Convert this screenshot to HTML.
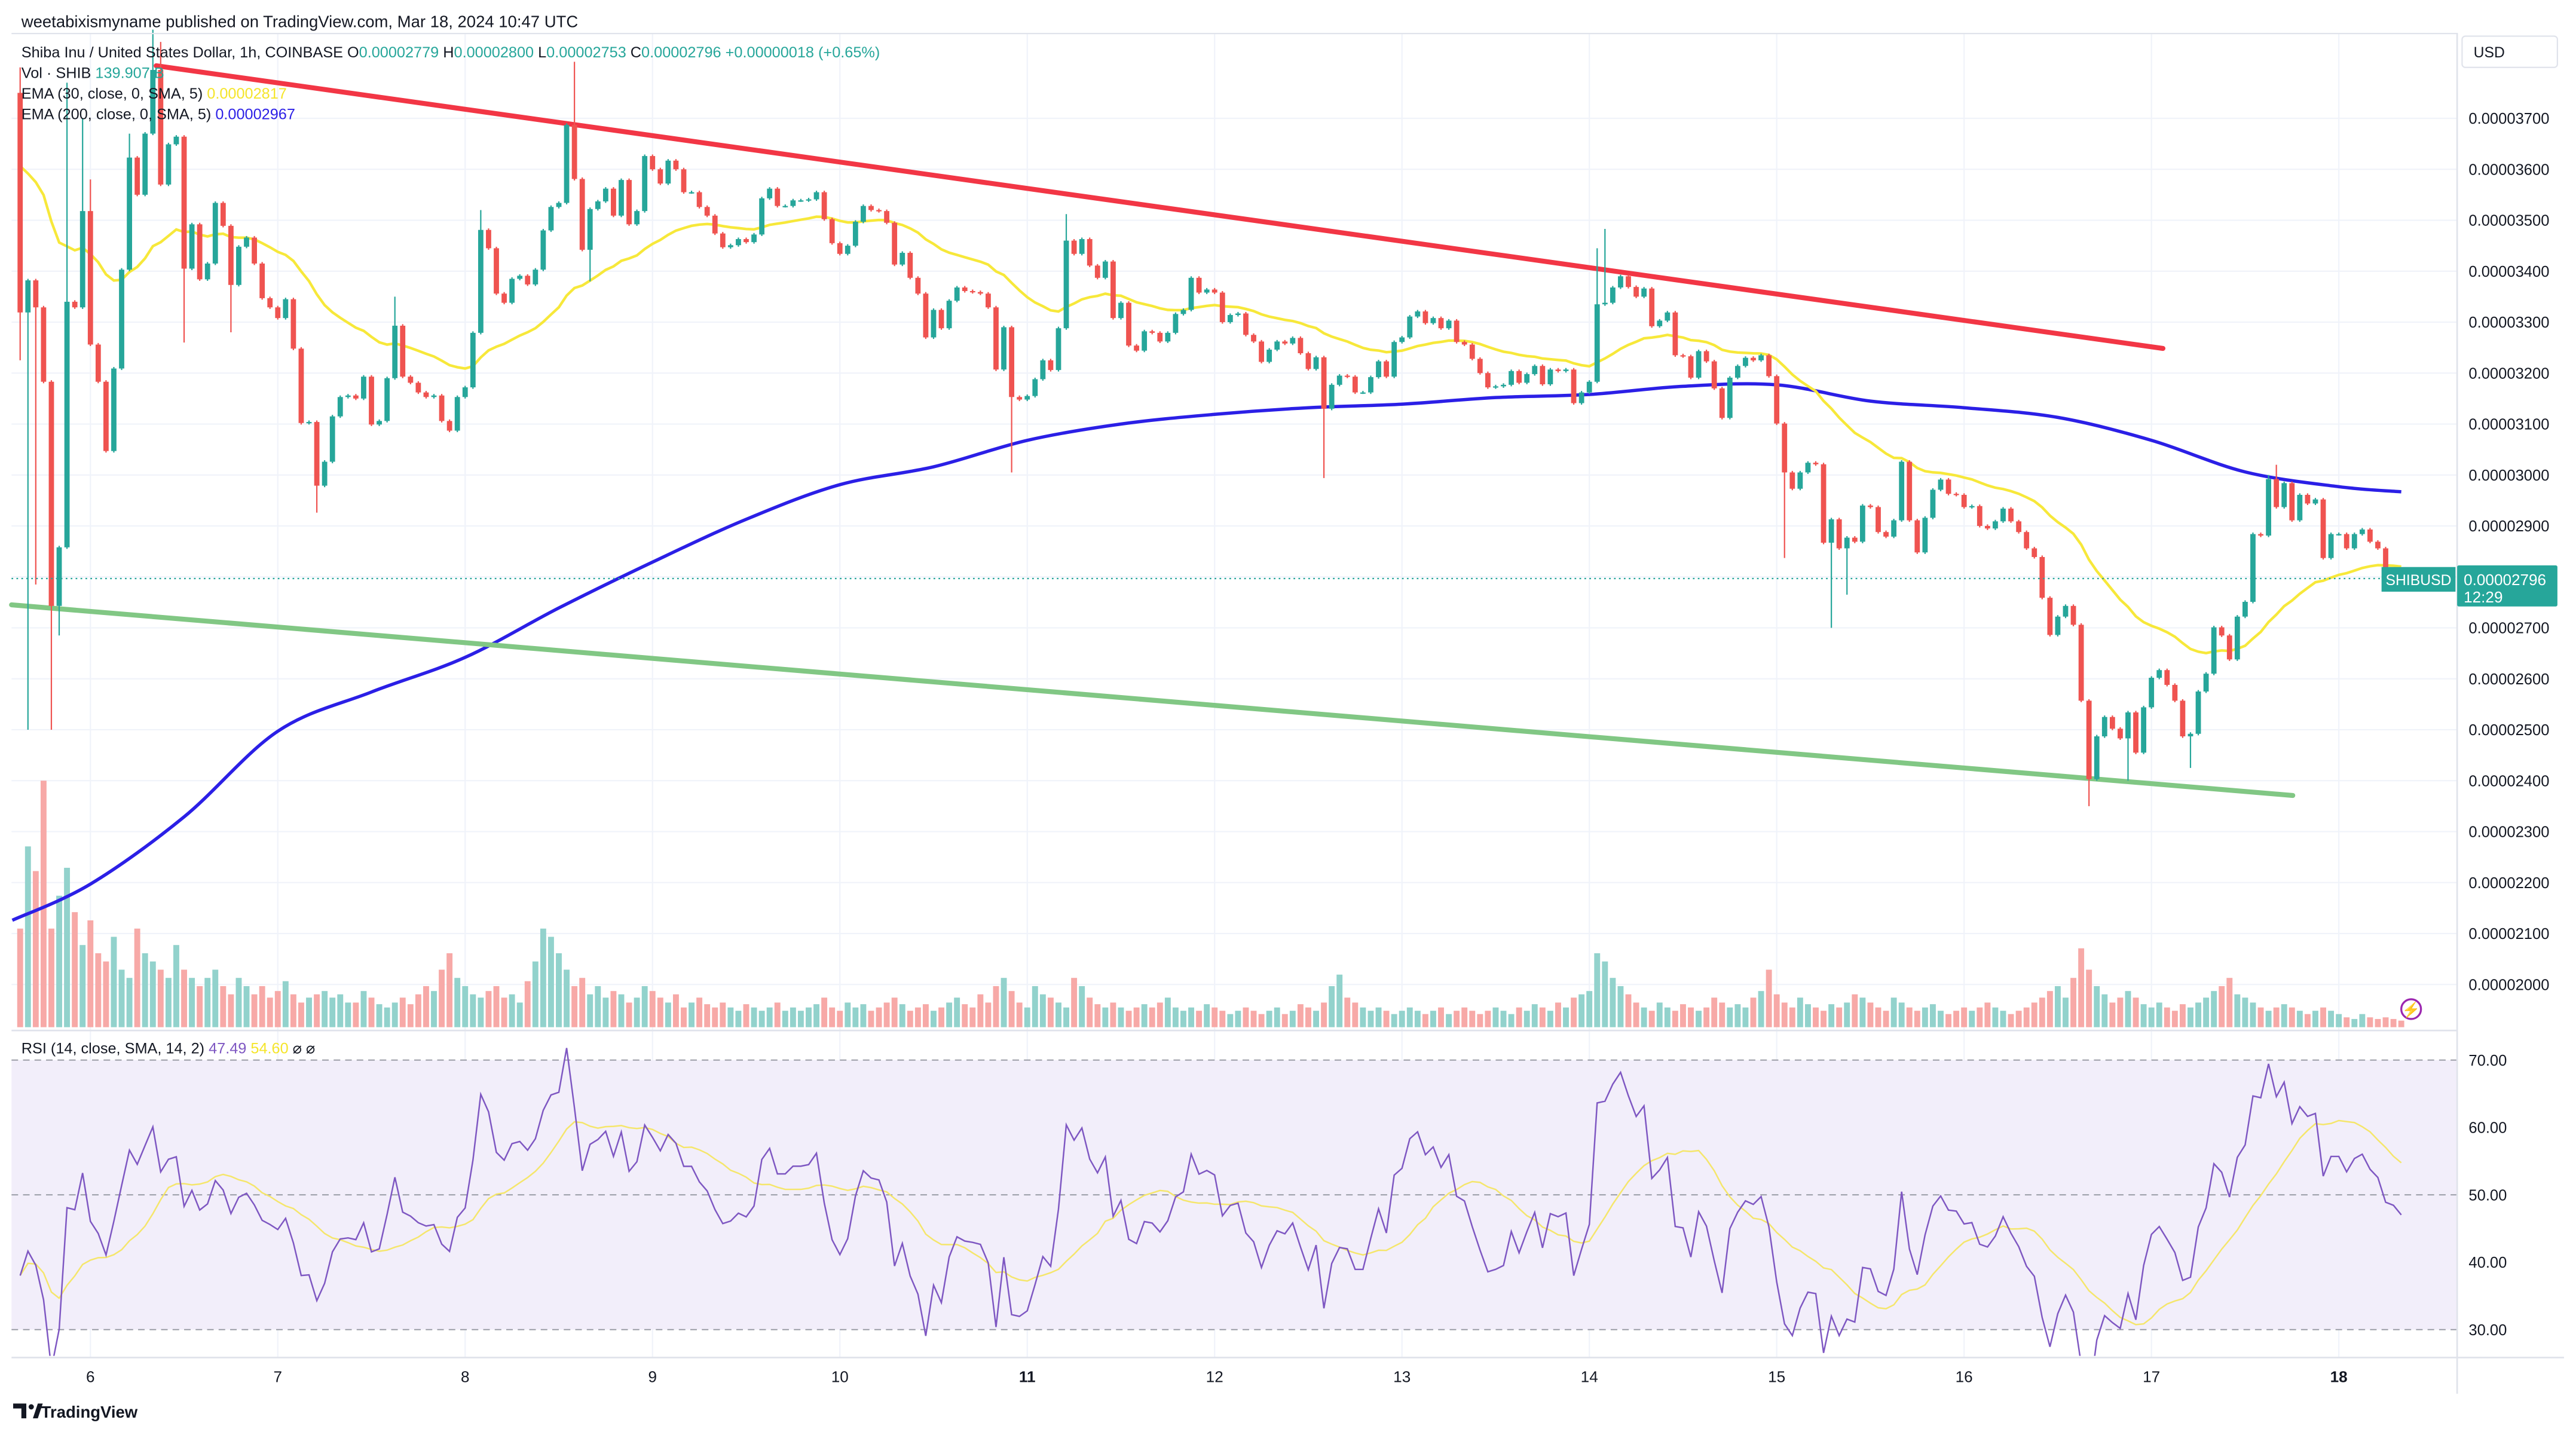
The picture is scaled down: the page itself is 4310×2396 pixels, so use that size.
<!DOCTYPE html>
<html><head><meta charset="utf-8"><title>SHIBUSD 1h chart</title>
<style>
html,body{margin:0;padding:0;background:#fff;}
svg{display:block;font-family:"Liberation Sans",sans-serif;}
</style></head>
<body>
<svg id="chart" xmlns="http://www.w3.org/2000/svg" width="4310" height="2396" viewBox="0 0 1567.3 871.3">
<rect x="0" y="0" width="1567.3" height="871.3" fill="#ffffff"/>
<text x="13" y="16.5" font-size="10" fill="#131722">weetabixismyname published on TradingView.com, Mar 18, 2024 10:47 UTC</text>
<g id="grid"></g>
<rect x="7" y="628" width="1488" height="197" fill="none"/>
<rect x="7" y="645" width="1488" height="164" fill="#f2eefa"/>
<g id="rsiguides"></g>
<g id="vol"></g>
<g id="ema200"></g>
<g id="ema30"></g>
<line x1="95" y1="40" x2="1316" y2="212" stroke="#f23645" stroke-width="3" stroke-linecap="round"/>
<line x1="7" y1="368" x2="1395" y2="484" stroke="#81c784" stroke-width="3" stroke-linecap="round"/>
<g id="candles"></g>
<line x1="7" y1="352" x2="1495" y2="352" stroke="#26a69a" stroke-width="0.8" stroke-dasharray="1,2"/>
<g id="rsi"></g>
<rect x="7" y="20" width="1488" height="0.8" fill="#e0e3eb"/>
<rect x="7" y="626.5" width="1488" height="1" fill="#e0e3eb"/>
<rect x="7" y="825.5" width="1553" height="1" fill="#e0e3eb"/>
<rect x="1494.5" y="20" width="1" height="828" fill="#e0e3eb"/>
<g id="yaxis"></g>
<g id="raxis"></g>
<g id="xaxis"></g>
<g font-size="9.2">
<text x="13" y="35" fill="#131722">Shiba Inu / United States Dollar, 1h, COINBASE  O<tspan fill="#26a69a">0.00002779</tspan>  H<tspan fill="#26a69a">0.00002800</tspan>  L<tspan fill="#26a69a">0.00002753</tspan>  C<tspan fill="#26a69a">0.00002796</tspan>  <tspan fill="#26a69a">+0.00000018 (+0.65%)</tspan></text>
<text x="13" y="47.5" fill="#131722">Vol · SHIB  <tspan fill="#26a69a">139.907 B</tspan></text>
<text x="13" y="60" fill="#131722">EMA (30, close, 0, SMA, 5)  <tspan fill="#f5e52a">0.00002817</tspan></text>
<text x="13" y="72.5" fill="#131722">EMA (200, close, 0, SMA, 5)  <tspan fill="#2b1fe6">0.00002967</tspan></text>
<text x="13" y="641" fill="#131722">RSI (14, close, SMA, 14, 2)  <tspan fill="#7e57c2">47.49</tspan>  <tspan fill="#f5e52a">54.60</tspan>  ⌀  ⌀</text>
</g>
<g>
<rect x="1498" y="22" width="58" height="19" rx="2" fill="#fff" stroke="#e0e3eb" stroke-width="0.8"/>
<text x="1505" y="35" font-size="9" fill="#131722">USD</text>
</g>
<g>
<rect x="1449" y="345" width="45" height="15" fill="#26a69a"/>
<text x="1471.5" y="356" font-size="9" fill="#fff" text-anchor="middle">SHIBUSD</text>
</g>
<g>
<rect x="1495" y="344" width="61" height="25" rx="1" fill="#26a69a"/>
<text x="1499" y="356" font-size="9.5" fill="#fff">0.00002796</text>
<text x="1499" y="366.5" font-size="9.5" fill="#fff">12:29</text>
</g>
<g>
<circle cx="1467" cy="614" r="6" fill="#fff" stroke="#9c27b0" stroke-width="1.2"/>
<text x="1467" y="617.5" font-size="9" fill="#9c27b0" text-anchor="middle">⚡</text>
</g>
<g>
<path d="M8 854 h8 v9 h-3 v-6 h-5z" fill="#131722"/>
<circle cx="19" cy="856" r="1.6" fill="#131722"/>
<path d="M20 863 l3 -9 h3 l-3 9z" fill="#131722"/>
<text x="25" y="862.5" font-size="10" font-weight="bold" fill="#131722">TradingView</text>
</g>
</svg>
<script>
const closes=[3319,3382,3329,3183,2743,2858,3340,3329,3518,3256,3183,3047,3209,3403,3623,3550,3670,3795,3570,3649,3664,3405,3492,3384,3415,3534,3489,3373,3448,3466,3415,3347,3329,3308,3345,3248,3102,3104,2979,3026,3115,3153,3156,3150,3193,3099,3106,3190,3293,3193,3181,3162,3153,3156,3106,3087,3153,3172,3279,3481,3445,3356,3338,3385,3391,3374,3403,3480,3526,3534,3687,3581,3442,3522,3537,3562,3509,3579,3492,3518,3626,3600,3572,3617,3600,3555,3555,3526,3509,3474,3447,3451,3463,3457,3472,3543,3562,3528,3528,3539,3539,3541,3555,3502,3455,3434,3450,3497,3528,3520,3518,3495,3413,3436,3387,3356,3270,3324,3288,3342,3368,3361,3359,3356,3329,3207,3290,3153,3148,3155,3188,3225,3206,3288,3460,3434,3463,3411,3387,3419,3308,3338,3254,3244,3282,3279,3262,3279,3316,3324,3387,3358,3364,3358,3300,3314,3317,3275,3262,3222,3246,3262,3258,3269,3239,3208,3231,3130,3177,3195,3193,3162,3162,3192,3223,3193,3261,3270,3311,3321,3298,3308,3288,3303,3261,3256,3228,3200,3172,3174,3177,3204,3181,3198,3214,3178,3207,3204,3207,3141,3162,3183,3335,3338,3368,3390,3369,3350,3366,3292,3303,3319,3235,3233,3191,3243,3223,3170,3112,3191,3214,3230,3225,3235,3194,3101,3005,2973,3005,3024,3021,2867,2913,2856,2877,2869,2940,2937,2888,2879,2911,3026,2911,2848,2916,2971,2991,2963,2961,2937,2939,2900,2895,2909,2934,2909,2888,2856,2839,2759,2686,2722,2743,2706,2557,2403,2487,2525,2502,2483,2534,2455,2544,2602,2617,2588,2557,2487,2492,2575,2610,2701,2685,2638,2722,2751,2884,2881,2992,2937,2984,2911,2961,2944,2952,2837,2884,2884,2856,2884,2893,2869,2856,2816,2811,2796];
const firstOpen=3750;
const highPts=[[0,3800],[6,3770],[8,3700],[9,3580],[14,3670],[17,3874],[18,3850],[48,3350],[59,3520],[71,3811],[134,3512],[202,3445],[203,3483],[288,3000],[289,3020]];
const lowPts=[[0,3225],[1,2500],[2,2785],[4,2500],[5,2685],[21,3260],[27,3280],[38,2926],[73,3380],[127,3005],[167,2994],[226,2837],[232,2700],[234,2765],[265,2350],[270,2400],[278,2425]];
const volumes=[60,110,95,150,60,80,97,70,50,65,45,40,55,35,30,60,45,40,35,30,50,35,30,25,30,35,25,20,30,25,20,25,18,22,28,20,15,18,20,22,18,20,15,15,22,18,14,12,15,18,14,20,25,22,35,45,30,25,20,18,22,25,18,20,15,28,40,60,55,45,35,25,30,20,25,18,22,20,15,18,25,22,18,15,20,12,15,18,14,12,15,12,10,14,12,10,12,15,10,12,10,12,14,18,12,10,15,12,14,10,12,15,18,14,10,12,14,10,12,15,18,14,12,20,15,25,30,22,15,12,25,20,18,15,12,30,25,18,14,12,15,12,10,12,14,12,15,18,12,10,12,10,14,12,10,8,10,12,10,8,10,12,8,10,14,12,10,15,25,32,18,15,12,10,12,10,8,10,12,10,8,10,12,8,10,12,10,8,10,12,10,8,12,10,14,12,10,15,12,18,20,22,45,40,30,25,20,15,12,10,15,12,10,14,12,10,12,18,15,12,14,12,18,22,35,20,15,12,18,14,12,10,14,12,15,20,18,15,12,10,18,15,12,10,12,14,10,8,10,12,10,12,15,12,10,8,10,12,15,18,22,25,18,30,48,35,25,20,15,18,22,18,14,12,15,12,10,14,12,15,18,22,25,30,20,18,15,12,10,12,14,12,10,8,10,12,10,8,6,5,8,6,5,6,5,4];
const ema200Hours=[-10,0,12,24,36,48,60,72,84,96,108,120,132,144,156,168,180,192,204,216,228,240,252,264,276,288,296];
const ema200Vals=[2126,2197,2329,2497,2574,2642,2739,2829,2913,2981,3016,3068,3100,3119,3132,3139,3152,3158,3174,3177,3145,3132,3113,3068,3006,2977,2967];
const ema30Seed=3626;
const rsiSeedGain=32, rsiSeedLoss=19;
const priceTicks=[3700,3600,3500,3400,3300,3200,3100,3000,2900,2800,2700,2600,2500,2400,2300,2200,2100,2000];
const rsiTicks=[70,60,50,40,30];
const dayLabels=["6","7","8","9","10","11","12","13","14","15","16","17","18"];
const boldDays=["11","18"];

const NS="http://www.w3.org/2000/svg";
const startHour=-9, day0X=55, pxPerHour=4.75;
const xH=h=>day0X+pxPerHour*h;
const xI=i=>xH(startHour+i);
const yP=p=>72+(3700-p)*0.31;
const yR=r=>645+(70-r)*4.1;
const UP="#26a69a", DN="#ef5350";
function mk(tag,attrs,parent){const e=document.createElementNS(NS,tag);for(const k in attrs)e.setAttribute(k,attrs[k]);parent.appendChild(e);return e;}
const G=id=>document.getElementById(id);
function smoothPath(pts){let d="M"+pts[0][0]+","+pts[0][1];for(let i=0;i<pts.length-1;i++){const p0=pts[Math.max(0,i-1)],p1=pts[i],p2=pts[i+1],p3=pts[Math.min(pts.length-1,i+2)];
const c1=[p1[0]+(p2[0]-p0[0])/6,p1[1]+(p2[1]-p0[1])/6],c2=[p2[0]-(p3[0]-p1[0])/6,p2[1]-(p3[1]-p1[1])/6];
d+=" C"+c1[0]+","+c1[1]+" "+c2[0]+","+c2[1]+" "+p2[0]+","+p2[1];}return d;}

// grid
const grid=G("grid");
priceTicks.forEach(p=>{const l=mk("line",{x1:7,x2:1495,y1:yP(p),y2:yP(p),stroke:"#f0f3fa","stroke-width":0.8},grid);

});
dayLabels.forEach((d,k)=>{const x=xH(24*k);const l=mk("line",{x1:x,x2:x,y1:20,y2:826,stroke:"#f0f3fa","stroke-width":0.8},grid);

});
[70,50,30].forEach(r=>{const l=mk("line",{x1:7,x2:1495,y1:yR(r),y2:yR(r),stroke:"#9598a1","stroke-width":0.7,"stroke-dasharray":"4,3"},G("rsiguides"));

});

// opens, highs, lows
const opens=closes.map((c,i)=>i===0?firstOpen:closes[i-1]);
const highs=closes.map((c,i)=>Math.max(c,opens[i])+3);
const lows=closes.map((c,i)=>Math.min(c,opens[i])-3);
highPts.forEach(([i,v])=>{highs[i]=Math.max(highs[i],v);});
lowPts.forEach(([i,v])=>{lows[i]=Math.min(lows[i],v);});

// volume
const vg=G("vol");
volumes.forEach((v,i)=>{const up=closes[i]>=opens[i];const r=mk("rect",{x:xI(i)-1.8,y:625-v,width:3.6,height:v,fill:up?"#92d2cc":"#f7a9a7"},vg);

});

// candles
const cg=G("candles");
closes.forEach((c,i)=>{const o=opens[i];const up=c>=o;const col=up?UP:DN;const x=xI(i);
const w=mk("line",{x1:x,x2:x,y1:yP(highs[i]),y2:yP(lows[i]),stroke:col,"stroke-width":0.8},cg);


const top=yP(Math.max(o,c)),bot=yP(Math.min(o,c));
const b=mk("rect",{x:x-1.6,y:top,width:3.2,height:Math.max(0.8,bot-top),fill:col},cg);

});

// EMA30
let e=ema30Seed;const ema30=closes.map(c=>{e=e+(2/31)*(c-e);return e;});
const p30=mk("polyline",{points:ema30.map((v,i)=>xI(i)+","+yP(v)).join(" "),fill:"none",stroke:"#f7e83a","stroke-width":1.6},G("ema30"));



// EMA200
const p200=mk("path",{d:smoothPath(ema200Hours.map((h,k)=>[xH(h),yP(ema200Vals[k])])),fill:"none",stroke:"#2b1fe6","stroke-width":2,"stroke-linejoin":"round"},G("ema200"));



// RSI
let ag=rsiSeedGain,al=rsiSeedLoss;const rsi=closes.map((c,i)=>{const d=c-opens[i];ag=(ag*13+Math.max(d,0))/14;al=(al*13+Math.max(-d,0))/14;return 100-100/(1+ag/al);});
const rsiSma=rsi.map((v,i)=>{const s=rsi.slice(Math.max(0,i-13),i+1);return s.reduce((a,b)=>a+b,0)/s.length;});
const rg=G("rsi");
const clip=mk("clipPath",{id:"rclip"},rg);
mk("rect",{x:7,y:628,width:1488,height:197},clip);
const ps=mk("polyline",{points:rsiSma.map((v,i)=>xI(i)+","+yR(v)).join(" "),fill:"none",stroke:"#f5e66b","stroke-width":0.9,"clip-path":"url(#rclip)"},rg);


const pr=mk("polyline",{points:rsi.map((v,i)=>xI(i)+","+yR(v)).join(" "),fill:"none",stroke:"#7e57c2","stroke-width":0.9,"clip-path":"url(#rclip)"},rg);



// axes
const ya=G("yaxis");
priceTicks.forEach(p=>{const t=mk("text",{x:1502,y:yP(p)+3.3,"font-size":9.3,fill:"#131722"},ya);t.textContent="0.0000"+p;

});
const ra=G("raxis");
rsiTicks.forEach(r=>{const t=mk("text",{x:1502,y:yR(r)+3.3,"font-size":9.3,fill:"#131722"},ra);t.textContent=r.toFixed(2);

});
const xa=G("xaxis");
dayLabels.forEach((d,k)=>{const t=mk("text",{x:xH(24*k),y:841,"font-size":9.5,fill:"#131722","text-anchor":"middle","font-weight":boldDays.includes(d)?"bold":"normal"},xa);t.textContent=d;

});
</script>
</body></html>
